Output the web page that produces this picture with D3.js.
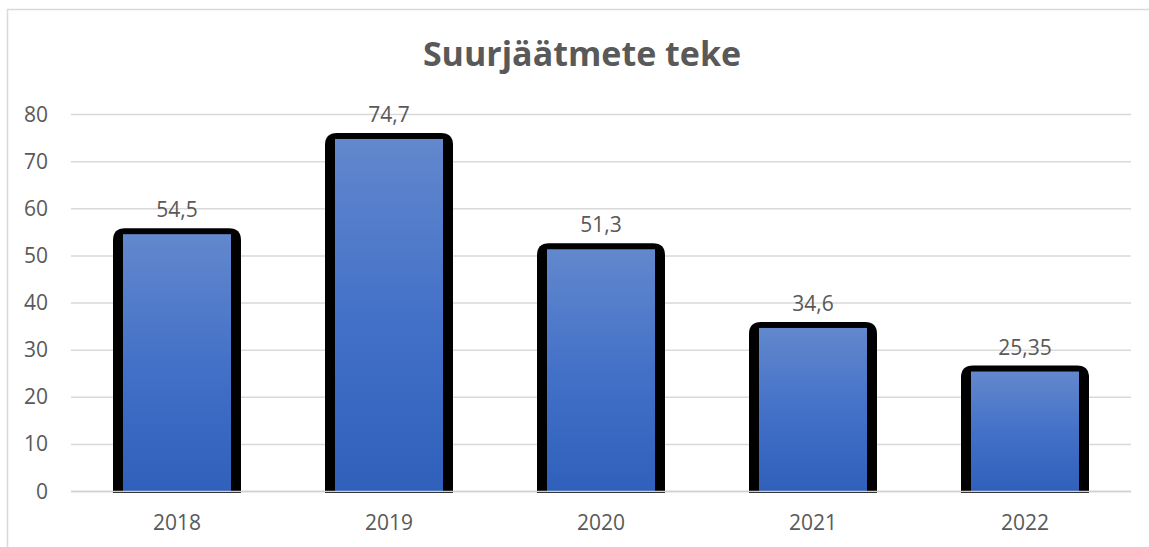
<!DOCTYPE html>
<html>
<head>
<meta charset="utf-8">
<script src="https://cdn.jsdelivr.net/npm/d3@7"></script>
<style>
  body { margin: 0; background: #fff; }
  text { font-family: "Open Sans", "Noto Sans", sans-serif; fill: #595959; }
</style>
</head>
<body>
<div id="chart"></div>
<script>
// data
var years = ["2018", "2019", "2020", "2021", "2022"];
var values = [54.5, 74.7, 51.3, 34.6, 25.35];
var valueLabels = ["54,5", "74,7", "51,3", "34,6", "25,35"];
var yTicks = [0, 10, 20, 30, 40, 50, 60, 70, 80];

var svgWidth = 1149, svgHeight = 547;
// plot area edges (don't call it "top", that's window.top)
var plotLeft = 71, plotRight = 1131, plotTop = 114, plotBottom = 491;

var svg = d3.select("#chart").append("svg")
  .attr("width", svgWidth)
  .attr("height", svgHeight);

// chart frame (only top + left edge visible in the screenshot)
svg.append("path")
  .attr("d", "M7.5," + svgHeight + " V9.5 H" + svgWidth)
  .attr("fill", "none")
  .attr("stroke", "#d9d9d9")
  .attr("stroke-width", 1.5);

var defs = svg.append("defs");
var grad = defs.append("linearGradient")
  .attr("id", "barGrad")
  .attr("x1", 0).attr("y1", 0).attr("x2", 0).attr("y2", 1);
grad.append("stop").attr("offset", "0%").attr("stop-color", "#6288cd");
grad.append("stop").attr("offset", "50%").attr("stop-color", "#4471c8");
grad.append("stop").attr("offset", "100%").attr("stop-color", "#2f60bb");

var x = d3.scaleBand().domain(years).range([plotLeft, plotRight]);
var y = d3.scaleLinear().domain([0, 80]).range([plotBottom, plotTop]);

// gridlines
svg.append("g").selectAll("line")
  .data(yTicks)
  .enter().append("line")
  .attr("x1", plotLeft).attr("x2", plotRight)
  .attr("y1", d => y(d) + 0.5).attr("y2", d => y(d) + 0.5)
  .attr("stroke", "#d9d9d9")
  .attr("stroke-width", 1.5);

// y axis labels
svg.append("g").selectAll("text")
  .data(yTicks)
  .enter().append("text")
  .attr("x", 48)
  .attr("y", d => y(d))
  .attr("dy", "0.36em")
  .attr("text-anchor", "end")
  .style("font-size", "21px")
  .text(d => d);

// bars: thick black rounded outline behind a gradient fill
var half = 54, side = 10, topEdge = 6, r = 12;
var bars = svg.append("g").selectAll("g")
  .data(values)
  .enter().append("g");

bars.append("path")
  .attr("d", function(d, i) {
    var cx = x(years[i]) + x.bandwidth() / 2;
    var x0 = cx - half - side, x1 = cx + half + side;
    var yt = y(d) - topEdge, yb = plotBottom + 2;
    return "M" + x0 + "," + yb +
      " V" + (yt + r) +
      " Q" + x0 + "," + yt + " " + (x0 + r) + "," + yt +
      " H" + (x1 - r) +
      " Q" + x1 + "," + yt + " " + x1 + "," + (yt + r) +
      " V" + yb + " Z";
  })
  .attr("fill", "#000");

bars.append("rect")
  .attr("x", (d, i) => x(years[i]) + x.bandwidth() / 2 - half)
  .attr("width", half * 2)
  .attr("y", d => y(d))
  .attr("height", d => plotBottom - y(d))
  .attr("fill", "url(#barGrad)");

// zero line drawn over the bars
svg.append("line")
  .attr("x1", plotLeft).attr("x2", plotRight)
  .attr("y1", y(0) + 0.5).attr("y2", y(0) + 0.5)
  .attr("stroke", "#d0d0d0")
  .attr("stroke-width", 1.5);

// value labels
bars.append("text")
  .attr("x", (d, i) => x(years[i]) + x.bandwidth() / 2)
  .attr("y", d => y(d) - 17)
  .attr("text-anchor", "middle")
  .style("font-size", "21px")
  .text((d, i) => valueLabels[i]);

// x axis labels
svg.append("g").selectAll("text")
  .data(years)
  .enter().append("text")
  .attr("x", d => x(d) + x.bandwidth() / 2)
  .attr("y", 530)
  .attr("text-anchor", "middle")
  .style("font-size", "21px")
  .text(d => d);

// title
svg.append("text")
  .attr("x", 582)
  .attr("y", 66)
  .attr("text-anchor", "middle")
  .style("font-size", "34px")
  .style("font-weight", "bold")
  .text("Suurjäätmete teke");
</script>
</body>
</html>
